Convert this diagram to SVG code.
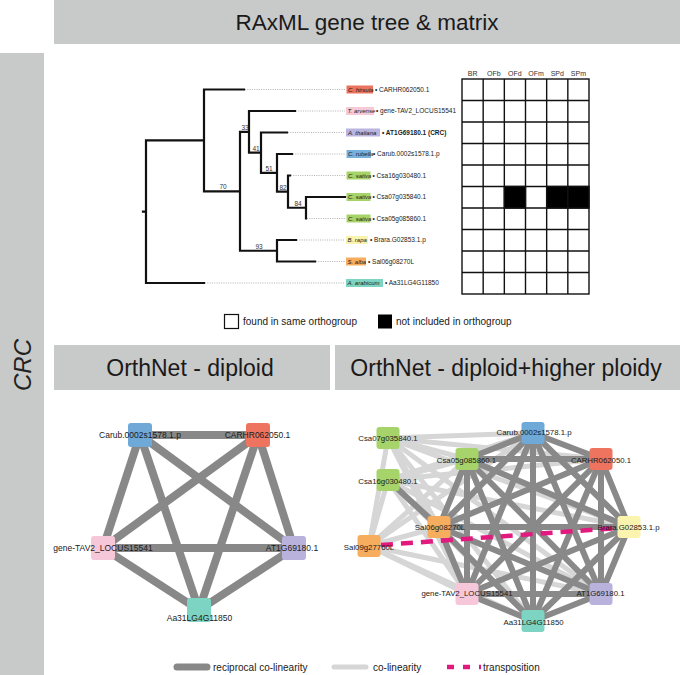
<svg xmlns="http://www.w3.org/2000/svg" width="680" height="675" viewBox="0 0 680 675">
<style>
text{font-family:"Liberation Sans",Arial,sans-serif;fill:#1a1a1a}
.bar{fill:#c8c9c9}
.hd{font-size:22.5px;text-anchor:middle}
.tr{fill:none;stroke:#111;stroke-width:2.2;stroke-linecap:square}
.dot{stroke:#a8a8a8;stroke-width:0.9;stroke-dasharray:1 1.3}
.bs{font-size:6.5px;text-anchor:middle;fill:#333}
.sp{font-size:6px;font-style:italic}
.gid{font-size:6.5px}
.grid{fill:#fff;stroke:#111;stroke-width:1.4}
.blk{fill:#000;stroke:#111;stroke-width:1.4}
.col{font-size:7px;text-anchor:middle;fill:#333}
.lg{font-size:10px}
.e1{stroke:#888;stroke-width:8}
.ed{stroke:#898989;stroke-width:6}
.el{stroke:#d6d6d6;stroke-width:5}
.tp{stroke:#e2197e;stroke-width:4.5;stroke-dasharray:12 8;fill:none}
.nl{font-size:8.5px;text-anchor:middle}
.nr{font-size:7.8px;text-anchor:middle}
</style>

<!-- header bars -->
<g id="header-tree"><rect class="bar" x="54" y="0" width="626" height="44"/><text class="hd" x="367" y="30">RAxML gene tree &amp; matrix</text></g>
<g id="header-crc"><rect class="bar" x="0" y="53" width="44" height="622"/><text transform="translate(30.5,365) rotate(-90)" style="font-size:24px;font-style:italic;text-anchor:middle;fill:#222">CRC</text></g>
<g id="header-diploid"><rect class="bar" x="54" y="345" width="276" height="45"/><text class="hd" x="190" y="376" style="font-size:23px">OrthNet - diploid</text></g>
<g id="header-higher"><rect class="bar" x="335" y="345" width="345" height="45"/><text class="hd" x="506" y="376" style="font-size:23px">OrthNet - diploid+higher ploidy</text></g>

<!-- tree -->
<g id="tree">
<path class="tr" d="M143,211.7H146M146,140.4V283M146,140.4H204M146,283H204M204,89.5V191.3M204,89.5H244M204,191.3H240M240,131.8V250.75M240,131.8H249M249,111V152.7M249,111H295M249,152.7H261M261,132.5V172.8M261,132.5H287M261,172.8H277M277,154V191.6M277,154H292M277,191.6H288M288,175.5V207.75M288,175.5H290M288,207.75H306M306,197V218.5M306,197H345M240,250.75H277M277,240V261.5M277,240H296M277,261.5H315"/>
<g class="dot">
<line x1="245" y1="89.5" x2="345" y2="89.5"/>
<line x1="296" y1="111" x2="345" y2="111"/>
<line x1="288" y1="132.5" x2="345" y2="132.5"/>
<line x1="293" y1="154" x2="345" y2="154"/>
<line x1="291" y1="175.5" x2="345" y2="175.5"/>
<line x1="307" y1="218.5" x2="345" y2="218.5"/>
<line x1="297" y1="240" x2="345" y2="240"/>
<line x1="316" y1="261.5" x2="345" y2="261.5"/>
<line x1="205" y1="283" x2="345" y2="283"/>
</g>
<text class="bs" x="223" y="189">70</text>
<text class="bs" x="245" y="130">33</text>
<text class="bs" x="256" y="151">41</text>
<text class="bs" x="269" y="171">51</text>
<text class="bs" x="283" y="190">82</text>
<text class="bs" x="298" y="206">84</text>
<text class="bs" x="259" y="249">93</text>
</g>

<!-- leaf labels -->
<g id="leaf-labels">
<rect x="346.5" y="85.5" width="26.5" height="8" fill="#e9735f"/><text class="sp" x="348" y="91.7">C. hirsuta</text><text class="gid" x="375" y="91.8">• CARHR062050.1</text>
<rect x="346" y="107" width="28" height="8" fill="#f6c9d7"/><text class="sp" x="347.5" y="113.2">T. arvense</text><text class="gid" x="376" y="113.3">• gene-TAV2_LOCUS15541</text>
<rect x="346" y="128.5" width="34" height="8" fill="#bab5de"/><text class="sp" x="348" y="134.7">A. thaliana</text><text class="gid" x="382" y="134.8" style="font-weight:bold">• AT1G69180.1 (CRC)</text>
<rect x="346.5" y="150" width="24.5" height="8" fill="#78b0dd"/><text class="sp" x="348" y="156.2">C. rubella</text><text class="gid" x="373" y="156.3">• Carub.0002s1578.1.p</text>
<rect x="346.5" y="171.5" width="24" height="8" fill="#a6d468"/><text class="sp" x="348" y="177.7">C. sativa</text><text class="gid" x="372.5" y="177.8">• Csa16g030480.1</text>
<rect x="346.5" y="193" width="24" height="8" fill="#a6d468"/><text class="sp" x="348" y="199.2">C. sativa</text><text class="gid" x="372.5" y="199.3">• Csa07g035840.1</text>
<rect x="346.5" y="214.5" width="24" height="8" fill="#a6d468"/><text class="sp" x="348" y="220.7">C. sativa</text><text class="gid" x="372.5" y="220.8">• Csa05g085860.1</text>
<rect x="346" y="236" width="22" height="8" fill="#f8f3ae"/><text class="sp" x="347.5" y="242.2">B. rapa</text><text class="gid" x="370" y="242.3">• Brara.G02853.1.p</text>
<rect x="346" y="257.5" width="20" height="8" fill="#f6ad5f"/><text class="sp" x="347.5" y="263.7">S. alba</text><text class="gid" x="368" y="263.8">• Sal06g08270L</text>
<rect x="346" y="279" width="37" height="8" fill="#7dd4c3"/><text class="sp" x="347.5" y="285.2">A. arabicum</text><text class="gid" x="385" y="285.3">• Aa31LG4G11850</text>
</g>

<!-- matrix -->
<g id="matrix">
<text class="col" x="472.6" y="76">BR</text>
<text class="col" x="493.8" y="76">OFb</text>
<text class="col" x="514.9" y="76">OFd</text>
<text class="col" x="536.1" y="76">OFm</text>
<text class="col" x="557.3" y="76">SPd</text>
<text class="col" x="578.4" y="76">SPm</text>
<rect class="grid" x="462" y="79" width="127" height="215"/>
<path d="M483.17,79V294M504.33,79V294M525.5,79V294M546.67,79V294M567.83,79V294M462,100.5H589M462,122H589M462,143.5H589M462,165H589M462,186.5H589M462,208H589M462,229.5H589M462,251H589M462,272.5H589" stroke="#111" stroke-width="1.4" fill="none"/>
<rect class="blk" x="504.33" y="186.5" width="21.17" height="21.5"/>
<rect class="blk" x="546.67" y="186.5" width="21.16" height="21.5"/>
<rect class="blk" x="567.83" y="186.5" width="21.17" height="21.5"/>
</g>

<!-- matrix legend -->
<g id="matrix-legend">
<rect x="224.5" y="314.5" width="14" height="14" fill="#fff" stroke="#111" stroke-width="1.2"/>
<text class="lg" x="243" y="325">found in same orthogroup</text>
<rect x="378" y="314.5" width="14" height="14" fill="#000"/>
<text class="lg" x="396" y="325">not included in orthogroup</text>
</g>

<!-- left network connectors -->
<g id="connectors-diploid" class="e1">
<line x1="140" y1="435" x2="258" y2="435"/>
<line x1="140" y1="435" x2="103" y2="548"/>
<line x1="140" y1="435" x2="294" y2="548"/>
<line x1="140" y1="435" x2="199" y2="610"/>
<line x1="258" y1="435" x2="103" y2="548"/>
<line x1="258" y1="435" x2="294" y2="548"/>
<line x1="258" y1="435" x2="199" y2="610"/>
<line x1="103" y1="548" x2="294" y2="548"/>
<line x1="103" y1="548" x2="199" y2="610"/>
<line x1="294" y1="548" x2="199" y2="610"/>
</g>

<!-- left network nodes -->
<g id="d-carub"><rect x="128" y="423" width="24" height="24" rx="3" fill="#6fa9d8"/><text class="nl" x="140" y="438">Carub.0002s1578.1.p</text></g>
<g id="d-carhr"><rect x="246" y="423" width="24" height="24" rx="3" fill="#ef7460"/><text class="nl" x="257.5" y="438">CARHR062050.1</text></g>
<g id="d-tav2"><rect x="91" y="536" width="24" height="24" rx="3" fill="#f6c7d9"/><text class="nl" x="103" y="551">gene-TAV2_LOCUS15541</text></g>
<g id="d-at1g"><rect x="282" y="536" width="24" height="24" rx="3" fill="#b8b2dd"/><text class="nl" x="292" y="551">AT1G69180.1</text></g>
<g id="d-aa31"><rect x="187" y="598" width="24" height="24" rx="3" fill="#7dd4c2"/><text class="nl" x="199.5" y="620.5">Aa31LG4G11850</text></g>

<!-- right network connectors -->
<g id="connectors-higher">
<g class="el">
<line x1="388" y1="438" x2="533" y2="433"/>
<line x1="388" y1="438" x2="467" y2="459"/>
<line x1="388" y1="438" x2="601" y2="459"/>
<line x1="388" y1="438" x2="629" y2="527"/>
<line x1="388" y1="438" x2="601" y2="594"/>
<line x1="388" y1="438" x2="533" y2="621"/>
<line x1="388" y1="438" x2="467" y2="594"/>
<line x1="388" y1="438" x2="439" y2="527"/>
<line x1="388" y1="438" x2="369" y2="546"/>
<line x1="388" y1="480" x2="533" y2="433"/>
<line x1="388" y1="480" x2="467" y2="459"/>
<line x1="388" y1="480" x2="601" y2="459"/>
<line x1="388" y1="480" x2="629" y2="527"/>
<line x1="388" y1="480" x2="601" y2="594"/>
<line x1="388" y1="480" x2="533" y2="621"/>
<line x1="388" y1="480" x2="467" y2="594"/>
<line x1="388" y1="480" x2="369" y2="546"/>
<line x1="369" y1="546" x2="439" y2="527"/>
<line x1="369" y1="546" x2="467" y2="594"/>
<line x1="369" y1="546" x2="533" y2="621"/>
<line x1="369" y1="546" x2="601" y2="594"/>
<line x1="369" y1="546" x2="467" y2="459"/>
<line x1="369" y1="546" x2="533" y2="433"/>
</g>
<g class="ed">
<line x1="533" y1="433" x2="601" y2="459"/>
<line x1="533" y1="433" x2="629" y2="527"/>
<line x1="533" y1="433" x2="601" y2="594"/>
<line x1="533" y1="433" x2="533" y2="621"/>
<line x1="533" y1="433" x2="467" y2="594"/>
<line x1="533" y1="433" x2="439" y2="527"/>
<line x1="533" y1="433" x2="467" y2="459"/>
<line x1="601" y1="459" x2="629" y2="527"/>
<line x1="601" y1="459" x2="601" y2="594"/>
<line x1="601" y1="459" x2="533" y2="621"/>
<line x1="601" y1="459" x2="467" y2="594"/>
<line x1="601" y1="459" x2="439" y2="527"/>
<line x1="601" y1="459" x2="467" y2="459"/>
<line x1="629" y1="527" x2="601" y2="594"/>
<line x1="629" y1="527" x2="533" y2="621"/>
<line x1="629" y1="527" x2="467" y2="594"/>
<line x1="629" y1="527" x2="439" y2="527"/>
<line x1="629" y1="527" x2="467" y2="459"/>
<line x1="601" y1="594" x2="533" y2="621"/>
<line x1="601" y1="594" x2="467" y2="594"/>
<line x1="601" y1="594" x2="439" y2="527"/>
<line x1="601" y1="594" x2="467" y2="459"/>
<line x1="533" y1="621" x2="467" y2="594"/>
<line x1="533" y1="621" x2="439" y2="527"/>
<line x1="533" y1="621" x2="467" y2="459"/>
<line x1="467" y1="594" x2="439" y2="527"/>
<line x1="467" y1="594" x2="467" y2="459"/>
<line x1="439" y1="527" x2="467" y2="459"/>
<line x1="388" y1="480" x2="439" y2="527"/>
</g>
<line class="tp" x1="381" y1="545" x2="618" y2="528"/>
</g>

<!-- right network nodes -->
<g id="h-csa07"><rect x="376.5" y="427" width="23" height="22" rx="3" fill="#a6d36a"/><text class="nr" x="388" y="440.8">Csa07g035840.1</text></g>
<g id="h-carub"><rect x="521.5" y="422" width="23" height="22" rx="3" fill="#6fa9d8"/><text class="nr" x="534" y="434.8">Carub.0002s1578.1.p</text></g>
<g id="h-csa05"><rect x="455.5" y="448" width="23" height="22" rx="3" fill="#a6d36a"/><text class="nr" x="466.5" y="462.8">Csa05g085860.1</text></g>
<g id="h-carhr"><rect x="589.5" y="448" width="23" height="22" rx="3" fill="#ef7460"/><text class="nr" x="601" y="462.8">CARHR062050.1</text></g>
<g id="h-csa16"><rect x="376.5" y="469" width="23" height="22" rx="3" fill="#a6d36a"/><text class="nr" x="388" y="483.8">Csa16g030480.1</text></g>
<g id="h-sal06"><rect x="427.5" y="516" width="23" height="22" rx="3" fill="#f6ad5e"/><text class="nr" x="440" y="529.8">Sal06g08270L</text></g>
<g id="h-brara"><rect x="617.5" y="516" width="23" height="22" rx="3" fill="#fbf4ae"/><text class="nr" x="628.5" y="529.8">Brara.G02853.1.p</text></g>
<g id="h-sal09"><rect x="357.5" y="535" width="23" height="22" rx="3" fill="#f6ad5e"/><text class="nr" x="369" y="549.8">Sal09g27760L</text></g>
<g id="h-tav2"><rect x="455.5" y="583" width="23" height="22" rx="3" fill="#f6c7d9"/><text class="nr" x="467" y="595.8">gene-TAV2_LOCUS15541</text></g>
<g id="h-at1g"><rect x="589.5" y="583" width="23" height="22" rx="3" fill="#b8b2dd"/><text class="nr" x="600.5" y="595.8">AT1G69180.1</text></g>
<g id="h-aa31"><rect x="521.5" y="610" width="23" height="22" rx="3" fill="#7dd4c2"/><text class="nr" x="533.5" y="624.8">Aa31LG4G11850</text></g>

<!-- bottom legend -->
<g id="edge-legend">
<line x1="177" y1="667" x2="207" y2="667" stroke="#888" stroke-width="7" stroke-linecap="round"/>
<text class="lg" x="213" y="670.5">reciprocal co-linearity</text>
<line x1="334" y1="667" x2="366" y2="667" stroke="#d6d6d6" stroke-width="5" stroke-linecap="round"/>
<text class="lg" x="373" y="670.5">co-linearity</text>
<line x1="447" y1="667" x2="481" y2="667" stroke="#e2197e" stroke-width="4.5" stroke-dasharray="7 9"/>
<text class="lg" x="483" y="670.5">transposition</text>
</g>
</svg>
